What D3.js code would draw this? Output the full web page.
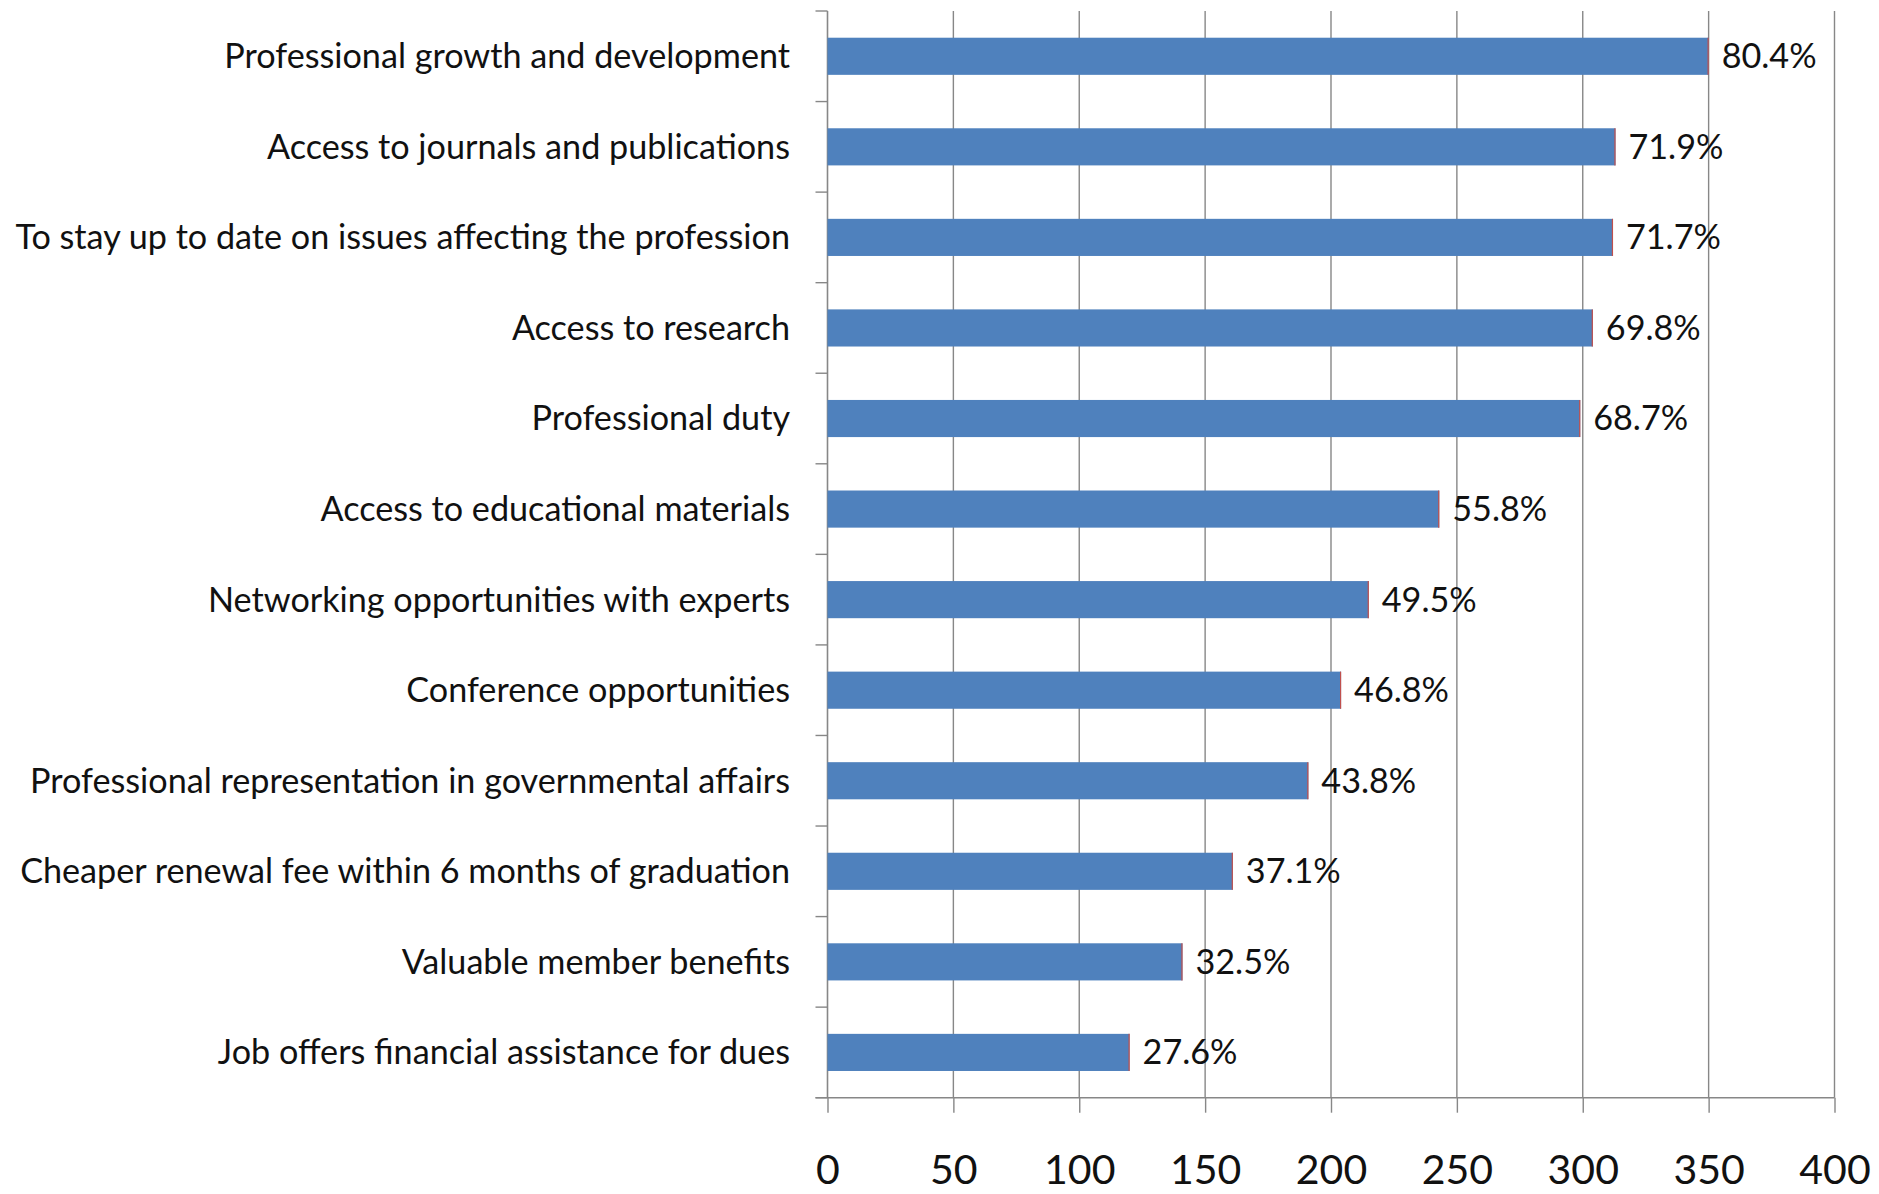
<!DOCTYPE html>
<html>
<head>
<meta charset="utf-8">
<script src="https://cdn.jsdelivr.net/npm/d3@7"></script>
<style>
  html, body { margin: 0; padding: 0; background: #fff; }
  svg { display: block; }
  text { font-family: Lato, "Open Sans", sans-serif; fill: #111; }
</style>
</head>
<body>
<svg id="chart" width="1879" height="1194"></svg>
<script>
const categories = [
  "Professional growth and development",
  "Access to journals and publications",
  "To stay up to date on issues affecting the profession",
  "Access to research",
  "Professional duty",
  "Access to educational materials",
  "Networking opportunities with experts",
  "Conference opportunities",
  "Professional representation in governmental affairs",
  "Cheaper renewal fee within 6 months of graduation",
  "Valuable member benefits",
  "Job offers financial assistance for dues"
];
const counts = [350, 313, 312, 304, 299, 243, 215, 204, 191, 161, 141, 120];
const percentLabels = ["80.4%", "71.9%", "71.7%", "69.8%", "68.7%", "55.8%", "49.5%", "46.8%", "43.8%", "37.1%", "32.5%", "27.6%"];
const xTicks = [0, 50, 100, 150, 200, 250, 300, 350, 400];

(function () {
const plotL = 827.5, plotR = 1834.5, plotT = 11, plotB = 1097.7;

const svg = d3.select("#chart");
const x = d3.scaleLinear().domain([0, 400]).range([plotL, plotR]);
const y = d3.scaleBand().domain(categories).range([plotT, plotB])
  .paddingInner(0.59).paddingOuter(0.295);

const gridColor = "#878787";

// vertical gridlines
svg.append("g").selectAll("line").data(xTicks.filter(d => d > 0)).join("line")
  .attr("x1", d => x(d)).attr("x2", d => x(d))
  .attr("y1", plotT).attr("y2", plotB)
  .attr("stroke", gridColor).attr("stroke-width", 1.4);

// bottom axis
const xAxis = d3.axisBottom(x).tickValues(xTicks).tickSizeInner(15).tickSizeOuter(0).tickFormat(d3.format("d"));
const gx = svg.append("g").attr("transform", `translate(0,${plotB})`).call(xAxis);
gx.select(".domain").remove();
gx.selectAll(".tick line").attr("stroke", gridColor).attr("stroke-width", 1.4);
gx.selectAll(".tick text")
  .attr("y", 57).attr("dy", "0.71em")
  .style("font-size", "41px").style("font-family", "Lato, sans-serif").attr("fill", "#111");
svg.append("line").attr("x1", plotL - 12).attr("x2", plotR)
  .attr("y1", plotB).attr("y2", plotB)
  .attr("stroke", gridColor).attr("stroke-width", 1.6);

// left axis
const yAxis = d3.axisLeft(y).tickSize(0).tickPadding(37.5);
const gy = svg.append("g").attr("transform", `translate(${plotL},0)`).call(yAxis);
gy.select(".domain").attr("stroke", gridColor).attr("stroke-width", 1.6)
  .attr("d", `M0,${plotT}V${plotB}`);
gy.selectAll(".tick text").style("font-size", "33px").style("font-family", "Lato, sans-serif")
  .attr("fill", "#111").attr("dy", "0.35em");

// fit label font to reference width of longest label (~775px)
let maxW = 0;
gy.selectAll(".tick text").each(function() { maxW = Math.max(maxW, this.getComputedTextLength()); });
const fs = maxW > 0 ? 33 * 775 / maxW : 33;
gy.selectAll(".tick text").style("font-size", fs + "px");

// category boundary ticks
const bounds = d3.range(categories.length + 1).map(i => plotT + i * y.step());
svg.append("g").selectAll("line").data(bounds).join("line")
  .attr("x1", plotL - 12).attr("x2", plotL)
  .attr("y1", d => d).attr("y2", d => d)
  .attr("stroke", gridColor).attr("stroke-width", 1.4);

// bars
const bars = svg.append("g");
bars.selectAll("rect").data(categories).join("rect")
  .attr("x", x(0)).attr("y", d => y(d))
  .attr("width", (d, i) => x(counts[i]) - x(0))
  .attr("height", y.bandwidth())
  .attr("fill", "#4F81BD");
bars.selectAll("line").data(categories).join("line")
  .attr("x1", (d, i) => x(counts[i]) - 0.5).attr("x2", (d, i) => x(counts[i]) - 0.5)
  .attr("y1", d => y(d)).attr("y2", d => y(d) + y.bandwidth())
  .attr("stroke", "#C0504D").attr("stroke-width", 1.2);

// value labels
svg.append("g").selectAll("text").data(categories).join("text")
  .attr("x", (d, i) => x(counts[i]) + 13)
  .attr("y", d => y(d) + y.bandwidth() / 2)
  .attr("dy", "0.35em")
  .style("font-size", fs + "px")
  .text((d, i) => percentLabels[i]);
})();
</script>
</body>
</html>
